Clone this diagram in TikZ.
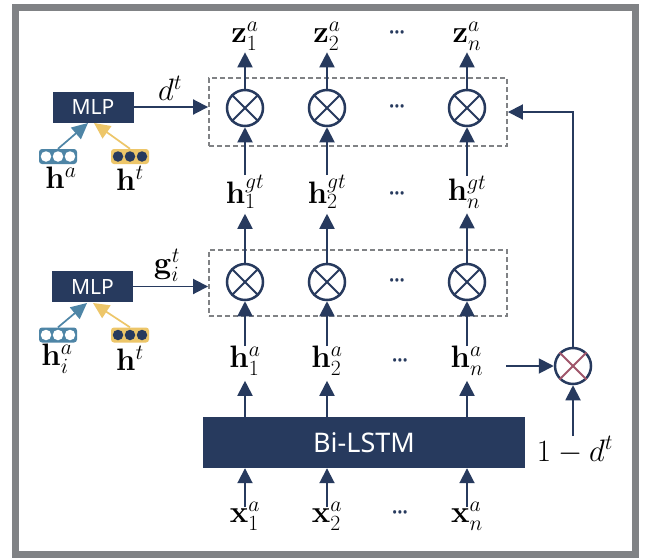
\RequirePackage{fix-cm}
\documentclass[tikz,border=0pt]{standalone}
\usepackage[no-math]{fontspec}
\newfontfamily\labfont{Noto Sans}
\usetikzlibrary{arrows.meta,shapes.misc}
\definecolor{navy}{HTML}{273A5E}
\definecolor{framegray}{HTML}{808285}
\definecolor{dashgray}{HTML}{808285}
\definecolor{tealc}{HTML}{4E85A6}
\definecolor{goldc}{HTML}{EDC669}
\definecolor{redc}{HTML}{A0566B}
\tikzset{
  x=1pt,y=-1pt,
  conn/.style={draw=navy,line width=1.9pt,-{Triangle[length=15pt,width=15pt]}},
  mult/.style={circle,draw=navy,line width=2.5pt,minimum size=36pt,inner sep=0pt,fill=white},
  darkbox/.style={fill=navy,draw=none,inner sep=0pt,text=white},
  dashbox/.style={draw=dashgray,line width=1.9pt,dash pattern=on 5pt off 3pt,inner sep=0pt},
  mathlab/.style={inner sep=0pt,font=\fontsize{31}{34}\selectfont},
  dotlab/.style={inner sep=0pt,text=navy,font=\fontsize{14}{14}\selectfont\labfont\bfseries},
  pill/.style={rounded corners=3pt,draw=none,minimum width=38pt,minimum height=15pt,inner sep=0pt},
  dot/.style={circle,minimum size=10.5pt,inner sep=0pt,draw=none},
  feedT/.style={line width=1.7pt,draw=tealc,-{Triangle[length=16pt,width=15pt,fill=tealc]}},
  feedG/.style={line width=1.7pt,draw=goldc,-{Triangle[length=16pt,width=15pt,fill=goldc]}}
}
\newcommand{\crossin}[2]{%
  \draw[#2,line width=1.8pt] (#1.45)--(#1.225);
  \draw[#2,line width=1.8pt] (#1.135)--(#1.315);
}
\begin{document}
\begin{tikzpicture}
\useasboundingbox (0,0) rectangle (645,557);
\fill[white] (0,0) rectangle (645,557);
\draw[framegray,line width=7pt] (15.5,7) rectangle (635.5,554.5);

% dashed boxes
\node[dashbox,minimum width=298pt,minimum height=68pt] (boxtop) at (358,112) {};
\node[dashbox,minimum width=298pt,minimum height=66pt] (boxbot) at (358,283) {};

% multiplier circles
\foreach \n/\x in {1/245,2/327,n/467}{
  \node[mult] (mt\n) at (\x,108) {};
  \node[mult] (mb\n) at (\x,282) {};
  \crossin{mt\n}{navy}
  \crossin{mb\n}{navy}
}
\node[mult] (mr) at (573,366) {};
\crossin{mr}{redc}

% labels
\node[mathlab] (z1) at (245,36) {$\mathbf{z}_1^a$};
\node[mathlab] (z2) at (327,36) {$\mathbf{z}_2^a$};
\node[mathlab] (zn) at (467,36) {$\mathbf{z}_n^a$};
\node[mathlab] (hg1) at (245,192) {$\mathbf{h}_1^{gt}$};
\node[mathlab] (hg2) at (327,192) {$\mathbf{h}_2^{gt}$};
\node[mathlab] (hgn) at (467,192) {$\mathbf{h}_n^{gt}$};
\node[mathlab] (h1) at (245,361) {$\mathbf{h}_1^a$};
\node[mathlab] (h2) at (327,361) {$\mathbf{h}_2^a$};
\node[mathlab] (hn) at (467,361) {$\mathbf{h}_n^a$};
\node[mathlab] (x1) at (245,516) {$\mathbf{x}_1^a$};
\node[mathlab] (x2) at (327,516) {$\mathbf{x}_2^a$};
\node[mathlab] (xn) at (467,516) {$\mathbf{x}_n^a$};
\node[dotlab] (d1) at (397,34) {•••};
\node[dotlab] (d2) at (397,108) {•••};
\node[dotlab] (d3) at (397,195) {•••};
\node[dotlab] (d4) at (397,282) {•••};
\node[dotlab] (d5) at (400,362) {•••};
\node[dotlab] (d6) at (400,514) {•••};

% Bi-LSTM and MLPs
\node[darkbox,minimum width=322pt,minimum height=51pt,font=\fontsize{27}{29}\selectfont\labfont] (lstm) at (364,442.5) {Bi-LSTM};
\node[darkbox,minimum width=81pt,minimum height=31pt,font=\fontsize{21}{23}\selectfont\labfont] (mlpa) at (93,107) {MLP};
\node[darkbox,minimum width=81pt,minimum height=31pt,font=\fontsize{21}{23}\selectfont\labfont] (mlpb) at (92.5,286.5) {MLP};

% pills
\foreach \nm/\y in {a/156.5,b/335}{
  \node[pill,fill=tealc] (pt\nm) at (58,\y) {};
  \node[pill,fill=goldc] (pg\nm) at (130,\y) {};
  \foreach \k/\dx in {1/-12,2/0,3/12}{
    \node[dot,fill=white] (pt\nm\k) at (58+\dx,\y) {};
    \node[dot,fill=navy] (pg\nm\k) at (130+\dx,\y) {};
  }
}
\coordinate (mat) at (88,123);
\coordinate (mag) at (94,123);
\coordinate (mbt) at (87,303);
\coordinate (mbg) at (93,303);
\draw[feedT] (pta.north) -- (mat);
\draw[feedG] (pga.north) -- (mag);
\draw[feedT] (ptb.north) -- (mbt);
\draw[feedG] (pgb.north) -- (mbg);

\node[mathlab] (lha) at (61,178) {$\mathbf{h}^a$};
\node[mathlab] (lht) at (130,178) {$\mathbf{h}^t$};
\node[mathlab] (lhia) at (57,359) {$\mathbf{h}_i^a$};
\node[mathlab] (lhbt) at (130,358) {$\mathbf{h}^t$};
\node[mathlab] (ldt) at (170,88) {$d^t$};
\node[mathlab] (lgi) at (167,265) {$\mathbf{g}_i^t$};
\node[mathlab] (lone) at (575,450) {$1-d^t$};

% connectors
\draw[conn] (mlpa.east) -- (boxtop.west |- mlpa.east);
\draw[conn] (mlpb.east) -- (boxbot.west |- mlpb.east);
\foreach \n in {1,2,n}{
  \draw[conn,shorten >=2pt] (mt\n.north) -- (z\n.south);
  \draw[conn] (hg\n.north) -- (mt\n.south);
  \draw[conn,shorten >=5pt] (mb\n.north) -- (hg\n.south);
  \draw[conn] (h\n.north) -- (mb\n.south);
  \draw[conn,shorten >=5pt] (lstm.north -| h\n) -- (h\n.south);
  \draw[conn,shorten <=-5pt] (x\n.north) -- (lstm.south -| x\n);
}
\coordinate (hnend) at (506,366);
\draw[conn] (hnend) -- (mr.west);
\draw[conn] (lone.north -| mr) -- (mr.south);
\draw[conn] (mr.north) -- (573,112) -- (boxtop.east |- 0,112);
\end{tikzpicture}
\end{document}
